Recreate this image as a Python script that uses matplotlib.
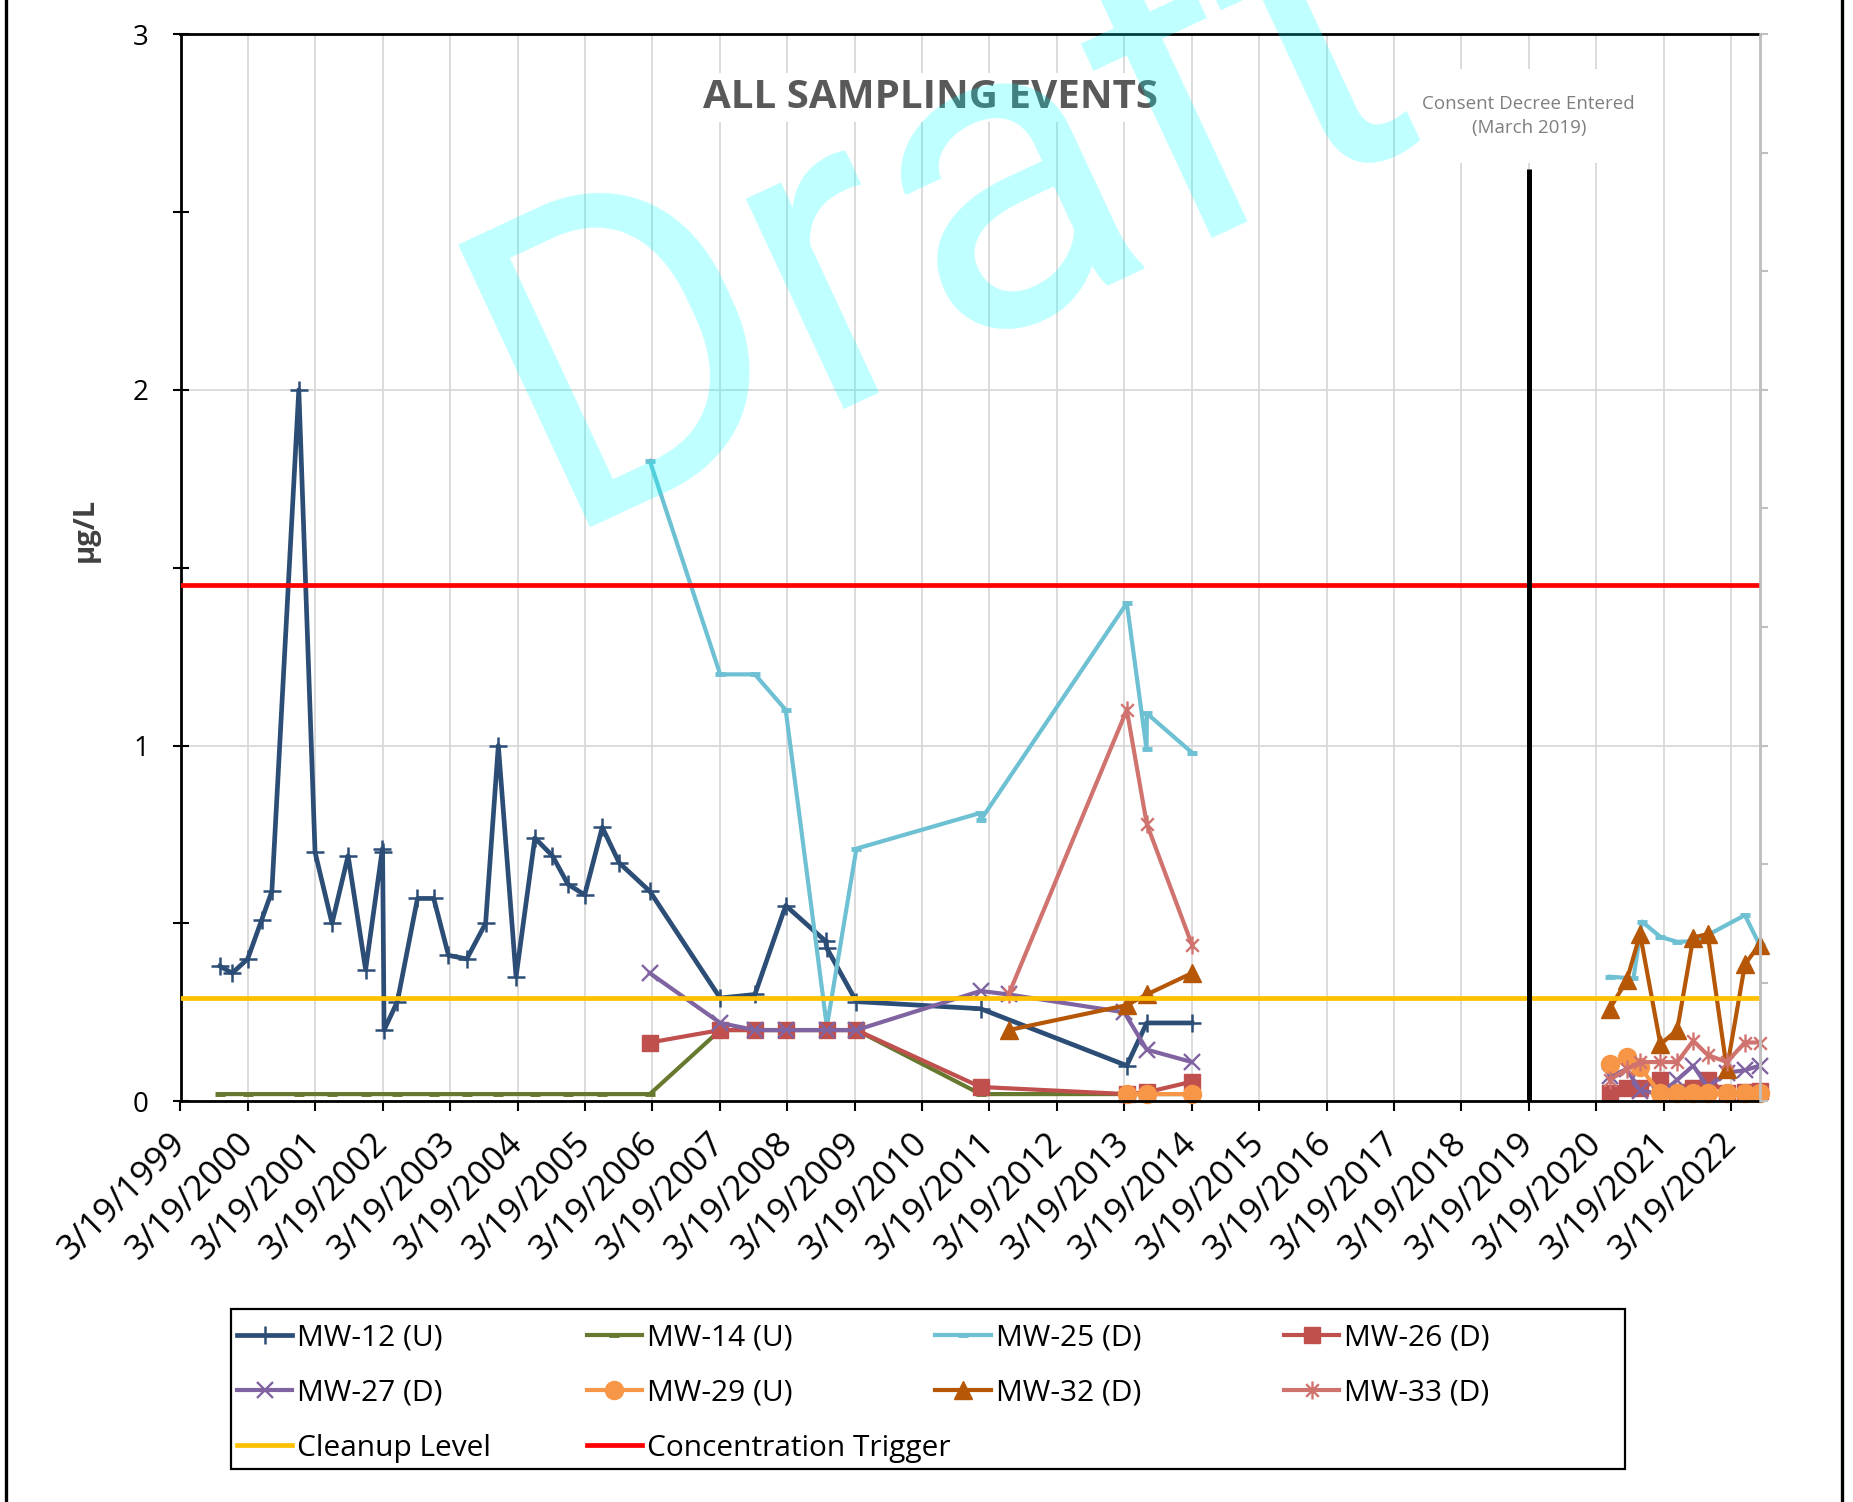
import numpy as np
import pandas as pd
import matplotlib
matplotlib.use("Agg")
import matplotlib.pyplot as plt
from matplotlib.path import Path
from matplotlib.patches import Rectangle
from matplotlib.lines import Line2D
from matplotlib.ticker import MultipleLocator

plt.rcParams["font.family"] = ["Open Sans", "DejaVu Sans"]

W, H, DPI = 1853, 1502, 100

# --- Daten (µg/L) -------------------------------------------------------------
# Probenahmetermine 2020-2022 (gemeinsam fuer die meisten Brunnen)
recent_dates = ["2020-05-31", "2020-08-31", "2020-11-11", "2021-03-01", "2021-05-31",
                "2021-08-26", "2021-11-12", "2022-02-24", "2022-06-02", "2022-08-20"]
early_dates = ["2006-03-05", "2007-03-21", "2007-09-25", "2008-03-10", "2008-10-19",
               "2009-03-28", "2011-01-30", "2013-04-01", "2013-07-18", "2014-03-20"]

mw12_dates = ["1999-10-18", "1999-12-24", "2000-03-17", "2000-06-01", "2000-07-26",
              "2000-12-19", "2001-03-17", "2001-06-17", "2001-09-12", "2001-12-16",
              "2002-03-17", "2002-03-18", "2002-03-26", "2002-06-06", "2002-09-23",
              "2002-12-20", "2003-03-10", "2003-06-17", "2003-09-27", "2003-12-05",
              "2004-03-10", "2004-06-20", "2004-09-23", "2004-12-16", "2005-03-17",
              "2005-06-20", "2005-09-20", "2006-03-05", "2007-03-21", "2007-09-25",
              "2008-03-10", "2008-10-12", "2008-10-19", "2009-03-28", "2011-01-30",
              "2013-04-01", "2013-07-18", "2014-03-20"]
mw12_vals = [0.38, 0.36, 0.40, 0.51, 0.59, 2.00, 0.70, 0.50, 0.69, 0.37,
             0.71, 0.70, 0.20, 0.28, 0.57, 0.57, 0.41, 0.40, 0.50, 1.00,
             0.35, 0.74, 0.69, 0.61, 0.58, 0.77, 0.67, 0.59, 0.29, 0.30,
             0.55, 0.45, 0.43, 0.28, 0.26, 0.10, 0.22, 0.22]

mw14_dates = ["1999-10-18", "2000-03-17", "2000-12-19", "2001-06-17", "2001-12-16",
              "2002-06-06", "2002-12-20", "2003-06-17", "2003-12-05", "2004-06-20",
              "2004-12-16", "2005-06-20", "2006-03-05", "2007-03-21", "2007-09-25",
              "2008-03-10", "2008-10-19", "2009-03-28", "2011-01-30", "2013-04-01",
              "2013-07-18", "2014-03-20"]
mw14_vals = [0.02, 0.02, 0.02, 0.02, 0.02, 0.02, 0.02, 0.02, 0.02, 0.02,
             0.02, 0.02, 0.02, 0.20, 0.20, 0.20, 0.20, 0.20, 0.02, 0.02,
             0.02, 0.02]

mw25_dates = ["2006-03-05", "2007-03-21", "2007-09-25", "2008-03-10", "2008-10-19",
              "2009-03-28", "2011-01-26", "2011-01-30", "2013-04-01", "2013-07-17",
              "2013-07-19", "2014-03-20",
              "2020-05-31", "2020-10-06", "2020-11-21", "2021-03-01", "2021-05-31",
              "2021-08-26", "2021-11-12", "2022-06-02", "2022-08-20"]
mw25_vals = [1.80, 1.20, 1.20, 1.10, 0.21, 0.71, 0.81, 0.79, 1.40, 0.99, 1.09, 0.98,
             0.35, 0.345, 0.505, 0.462, 0.448, 0.45, 0.467, 0.523, 0.44]

mw26_dates = early_dates + recent_dates
mw26_vals = [0.165, 0.20, 0.20, 0.20, 0.20, 0.20, 0.04, 0.02, 0.025, 0.055,
             0.022, 0.036, 0.036, 0.061, 0.025, 0.036, 0.061, 0.022, 0.025, 0.03]

mw27_dates = ["2006-03-05", "2007-03-21", "2007-09-25", "2008-03-10", "2008-10-19",
              "2009-03-28", "2011-01-30", "2011-07-01", "2013-03-18", "2013-07-18",
              "2014-03-20"] + recent_dates
mw27_vals = [0.36, 0.22, 0.20, 0.20, 0.20, 0.20, 0.31, 0.30, 0.25, 0.145, 0.11,
             0.07, 0.09, 0.03, 0.02, 0.06, 0.10, 0.04, 0.08, 0.087, 0.10]

mw29_dates = ["2013-04-01", "2013-07-18", "2014-03-20"] + recent_dates
mw29_vals = [0.02, 0.02, 0.02,
             0.105, 0.125, 0.095, 0.022, 0.022, 0.022, 0.022, 0.022, 0.022, 0.022]

mw32_dates = ["2011-07-01", "2013-04-01", "2013-07-18", "2014-03-20"] + recent_dates
mw32_vals = [0.20, 0.27, 0.30, 0.36,
             0.26, 0.34, 0.47, 0.16, 0.20, 0.46, 0.47, 0.09, 0.385, 0.44]

mw33_dates = ["2011-07-01", "2013-04-01", "2013-07-18", "2014-03-20"] + recent_dates
mw33_vals = [0.30, 1.10, 0.78, 0.44,
             0.06, 0.09, 0.11, 0.11, 0.11, 0.17, 0.13, 0.11, 0.165, 0.165]

cleanup_level = 0.29
conc_trigger = 1.45
consent_date = "2019-03-19"
consent_top = 2.62

x_start, x_end = "1999-03-19", "2022-08-20"
tick_years = list(range(1999, 2023))

# Excel-"Stern": Kreuz mit senkrechtem Strich
STAR = Path([(-0.7, -0.7), (0.7, 0.7), (-0.7, 0.7), (0.7, -0.7), (0, -1), (0, 1)],
            [Path.MOVETO, Path.LINETO, Path.MOVETO, Path.LINETO, Path.MOVETO, Path.LINETO])


def px(x, y):
    """Pixel (von oben links) -> Figure-Koordinaten."""
    return x / W, 1 - y / H


def draw(ax, dates, vals, label, color, lw=3.0, **kw):
    d = pd.to_datetime(dates)
    xs, ys = [], []
    for i in range(len(d)):
        # Linie ueber die Luecke 2014-2020 unterbrechen
        if i and (d[i] - d[i - 1]).days > 1500:
            xs.append(d[i]); ys.append(np.nan)
        xs.append(d[i]); ys.append(vals[i])
    (ln,) = ax.plot(xs, ys, color=color, lw=lw, label=label, clip_on=False,
                    zorder=2, markeredgecolor=color, markerfacecolor=color, **kw)
    return ln


fig = plt.figure(figsize=(W / DPI, H / DPI), dpi=DPI)
ax = fig.add_axes([180.5 / W, 1 - 1101.2 / H, 1579 / W, 1067.1 / H])

h12 = draw(ax, mw12_dates, mw12_vals, "MW-12 (U)", "#2C4D75", lw=3.4, marker="+", ms=13, mew=1.8)
h14 = draw(ax, mw14_dates, mw14_vals, "MW-14 (U)", "#66792F", marker="_", ms=7, mew=3.5)
h25 = draw(ax, mw25_dates, mw25_vals, "MW-25 (D)", "#6EC0D3", marker="_", ms=7, mew=3.5)
h26 = draw(ax, mw26_dates, mw26_vals, "MW-26 (D)", "#C0504D", marker="s", ms=12)
h27 = draw(ax, mw27_dates, mw27_vals, "MW-27 (D)", "#8064A2", marker="x", ms=11, mew=1.7)
h29 = draw(ax, mw29_dates, mw29_vals, "MW-29 (U)", "#F79646", marker="o", ms=13)
h32 = draw(ax, mw32_dates, mw32_vals, "MW-32 (D)", "#B65708", marker="^", ms=13)
h33 = draw(ax, mw33_dates, mw33_vals, "MW-33 (D)", "#D0736F", marker=STAR, ms=13, mew=1.7)

hcl = ax.axhline(cleanup_level, color="#FFC000", lw=3.4, zorder=3, label="Cleanup Level")
htr = ax.axhline(conc_trigger, color="#FF0000", lw=3.4, zorder=3, label="Concentration Trigger")
ax.vlines(pd.Timestamp(consent_date), 0, consent_top, color="black", lw=3.6, zorder=3)

# Achsen
ax.set_xlim(pd.Timestamp(x_start), pd.Timestamp(x_end))
ax.set_ylim(0, 3)
ticks = [pd.Timestamp(f"{y}-03-19") for y in tick_years]
ax.set_xticks(ticks)
ax.set_xticklabels([f"{t.month}/{t.day}/{t.year}" for t in ticks],
                   rotation=45, ha="right", va="center", rotation_mode="anchor")
ax.yaxis.set_major_locator(MultipleLocator(1))
ax.yaxis.set_minor_locator(MultipleLocator(0.5))
ax.tick_params(axis="y", which="both", direction="inout", length=11.5, width=1.5,
               labelsize=20, pad=17)
ax.tick_params(axis="x", direction="out", length=7, width=1.5, labelsize=25, pad=20)
ax.grid(True, which="major", color="#D9D9D9", lw=1.3)
ax.set_axisbelow(True)
for s in ("left", "bottom", "top"):
    ax.spines[s].set_linewidth(2)
ax.spines["right"].set_color("#BFBFBF")
ax.spines["right"].set_linewidth(1.8)

ax2 = ax.twinx()
ax2.set_ylim(0, 3)
ax2.set_yticks(np.linspace(0, 3, 10))
ax2.tick_params(axis="y", colors="#BFBFBF", length=6, width=1.5, labelright=False)
for s in ("left", "bottom", "top"):
    ax2.spines[s].set_visible(False)
ax2.spines["right"].set_color("#BFBFBF")
ax2.spines["right"].set_linewidth(1.8)

ax.set_ylabel("µg/L", fontsize=21, fontweight="bold", color="#404040")
ax.yaxis.set_label_coords(-0.0605, 0.535)
ax.yaxis.label.set_va("center")

# Titel und Hinweis
ax.text(0.4747, 0.9403, "ALL SAMPLING EVENTS", transform=ax.transAxes, ha="center",
        va="center", fontsize=29, fontweight="bold", color="#595959", zorder=4,
        bbox=dict(boxstyle="square,pad=0.12", fc="white", ec="none"))
ax.text(pd.Timestamp(consent_date), 2.77, "Consent Decree Entered\n(March 2019)",
        ha="center", va="center", fontsize=13.5, color="#7F7F7F", linespacing=1.45,
        zorder=4, bbox=dict(boxstyle="square,pad=1.4", fc="white", ec="none"))

# Legende: 4 Spalten, zeilenweise gefuellt
cols = [[h12, h27, hcl], [h14, h29, htr], [h25, h32], [h26, h33]]
col_x = [237, 586.7, 935.4, 1284]
for handles, cx in zip(cols, col_x):
    fig.legend(handles=handles, loc="upper left", bbox_to_anchor=px(cx, 1323),
               frameon=False, fontsize=21.5, handlelength=1.85, handletextpad=0.17,
               labelspacing=0.88, borderpad=0, borderaxespad=0)
fig.add_artist(Rectangle(px(230.5, 1469), 1394 / W, 160 / H, transform=fig.transFigure,
                         fill=False, ec="black", lw=1.6))

# Seitenrahmen
for xx in (6, 1842):
    fig.add_artist(Line2D([xx / W, xx / W], [0, 1], transform=fig.transFigure,
                          color="black", lw=2.4))

# Wasserzeichen
fig.text(*px(554, 527), "Draft", rotation=25, rotation_mode="anchor", ha="left",
         va="baseline", fontsize=315, color=(0, 1, 1), alpha=0.25, zorder=10,
         family=["Roboto", "DejaVu Sans"])

fig.savefig("out.png", dpi=DPI)
plt.close(fig)
